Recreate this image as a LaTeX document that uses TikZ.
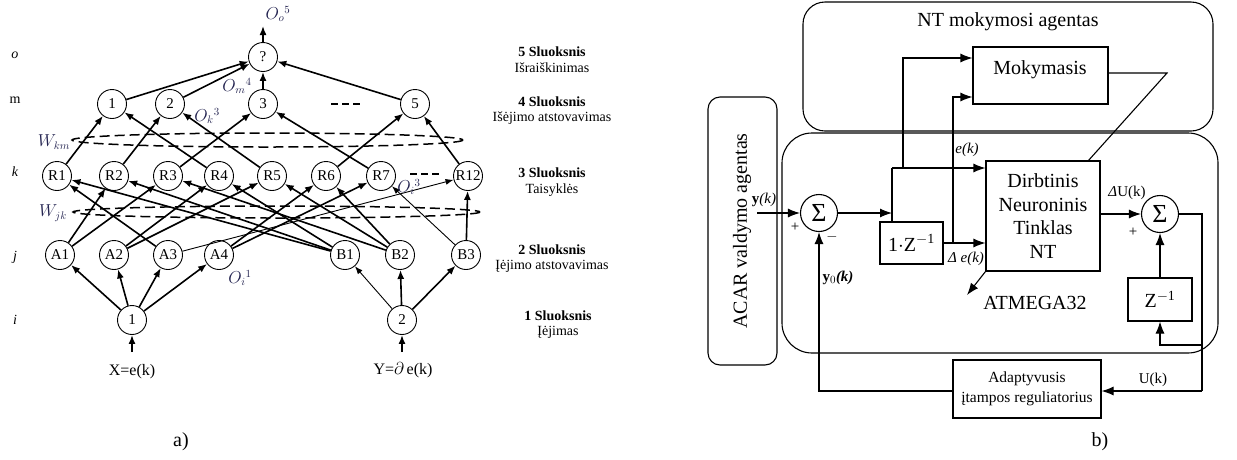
\documentclass[tikz,border=0pt]{standalone}
\usepackage{fontspec}
\setmainfont{Liberation Serif}
\usetikzlibrary{arrows.meta}
\newcommand{\fsz}[1]{\fontsize{#1}{#1}\selectfont}
\definecolor{lblc}{RGB}{35,35,80}
\begin{document}
\begin{tikzpicture}[x=1pt,y=-1pt,
  neuron/.style={draw,circle,minimum size=29pt,inner sep=0pt,line width=0.9pt,font=\fsz{15}},
  ar/.style={line width=1.6pt,-{Latex[length=9pt,width=7pt]}},
  arthin/.style={line width=0.9pt,-{Latex[length=8pt,width=6pt]}},
  lay/.style={font=\fsz{14}\itshape},
  sl/.style={font=\fsz{14}\bfseries},
  sld/.style={font=\fsz{14}},
  wl/.style={font=\fsz{16}, text=lblc},
  ell/.style={line width=1.5pt,dash pattern=on 10pt off 5pt},
  blk/.style={draw,line width=1.1pt,inner sep=0pt},
  fl/.style={line width=1.1pt,-{Latex[length=12pt,width=9pt]}},
  ln/.style={line width=1.1pt},
  sumnode/.style={draw,circle,line width=1.1pt,minimum size=37pt,inner sep=0pt,font=\fsz{26}},
]
\useasboundingbox (0,0) rectangle (1237,459);

% ---------------- (a) ----------------
\node[lay] at (15,55) {o};
\node[sld] at (15,100) {m};
\node[lay] at (15,172) {k};
\node[lay] at (15,257) {j};
\node[lay] at (15,320) {i};

\node[neuron] (Q) at (263,57) {?};
\node[neuron] (M1) at (112,104) {1};
\node[neuron] (M2) at (170,104) {2};
\node[neuron] (M3) at (263,104) {3};
\node[neuron] (M5) at (415,104) {5};

\node[neuron] (R1) at (57,176) {R1};
\node[neuron] (R2) at (114,176) {R2};
\node[neuron] (R3) at (168,176) {R3};
\node[neuron] (R4) at (219,176) {R4};
\node[neuron] (R5) at (272,176) {R5};
\node[neuron] (R6) at (326,176) {R6};
\node[neuron] (R7) at (381,176) {R7};
\node[neuron] (R12) at (468,176) {R12};

\node[neuron] (A1) at (60,255) {A1};
\node[neuron] (A2) at (114,255) {A2};
\node[neuron] (A3) at (168,255) {A3};
\node[neuron] (A4) at (219,255) {A4};
\node[neuron] (B1) at (345,255) {B1};
\node[neuron] (B2) at (400,255) {B2};
\node[neuron] (B3) at (466,255) {B3};

\node[neuron] (I1) at (132,320) {1};
\node[neuron] (I2) at (402,320) {2};

% dashes
\draw[line width=1.6pt,dash pattern=on 7pt off 4pt] (331,104) -- (360,104);
\draw[line width=1.1pt,dash pattern=on 7pt off 4pt] (410,174) -- (441,174);

% ellipses
\draw[ell] (267.5,140) ellipse [x radius=195.5, y radius=7];
\draw[ell] (276.5,212) ellipse [x radius=203.5, y radius=6];

% output / inputs
\coordinate (out) at (263,26);
\draw[ar] (Q) -- (out);
\coordinate (inX) at (132,352);
\coordinate (inY) at (402,352);
\draw[ar] (inX) -- (I1);
\draw[ar] (inY) -- (I2);

% m -> o
\foreach \m in {M1,M2,M3,M5} \draw[ar] (\m) -- (Q);
% k -> m
\draw[ar] (R1) -- (M1);
\draw[ar] (R2) -- (M2);
\draw[ar] (R3) -- (M3);
\draw[ar] (R4) -- (M1);
\draw[ar] (R5) -- (M2);
\draw[ar] (R6) -- (M5);
\draw[ar] (R7) -- (M3);
\draw[ar] (R12) -- (M5);
% j -> k
\draw[ar] (A1) -- (R2);
\draw[ar] (A1) -- (R3);
\draw[ar] (A2) -- (R4);
\draw[ar] (A2) -- (R5);
\draw[ar] (A3) -- (R1);
\draw[arthin] (A3) -- (R12);
\draw[ar] (A4) -- (R6);
\draw[ar] (A4) -- (R7);
\draw[ar] (B1) -- (R1);
\draw[ar] (B1) -- (R2);
\draw[ar] (B1) -- (R4);
\draw[ar] (B2) -- (R3);
\draw[ar] (B2) -- (R5);
\draw[ar] (B2) -- (R6);
\draw[arthin] (B3) -- (R7);
\draw[ar] (B3) -- (R12);
% i -> j
\foreach \a in {A1,A2,A3,A4} \draw[ar] (I1) -- (\a);
\draw[arthin] (I2) -- (B1);
\draw[ar] (I2) -- (B2);
\draw[ar] (I2) -- (B3);

% small labels
\node[wl] at (278,14) {$O_{o}{}^{5}$};
\node[wl] at (237,86) {$O_{m}{}^{4}$};
\node[wl] at (207,116) {$O_{k}{}^{3}$};
\node[wl] at (409,187) {$O_{i}{}^{3}$};
\node[wl] at (240,278) {$O_{i}{}^{1}$};
\node[wl] at (54,142) {$W_{km}$};
\node[wl] at (53,213) {$W_{jk}$};

\node[font=\fsz{16}] at (132,372) {X=e(k)};
\node[font=\fsz{16}] at (403,370) {Y=$\partial$\,e(k)};

\node[sl] at (552,52) {5 Sluoksnis};
\node[sld] at (552,68) {Išraiškinimas};
\node[sl] at (552,102) {4 Sluoksnis};
\node[sld] at (552,118) {Išėjimo atstovavimas};
\node[sl] at (552,173) {3 Sluoksnis};
\node[sld] at (552,190) {Taisyklės};
\node[sl] at (552,250) {2 Sluoksnis};
\node[sld] at (552,266) {Įėjimo atstovavimas};
\node[sl] at (558,316) {1 Sluoksnis};
\node[sld] at (558,332) {Įėjimas};

\node[font=\fsz{20}] at (181,442) {a)};
\node[font=\fsz{20}] at (1100,442) {b)};

% ---------------- (b) ----------------
\draw[ln, rounded corners=22pt] (803,2) rectangle (1213,131);
\draw[ln, rounded corners=30pt] (782,133) rectangle (1218,353);
\draw[ln, rounded corners=12pt] (708,97) rectangle (777,365);

\node[font=\fsz{20}] at (1008,22) {NT mokymosi agentas};
\node[font=\fsz{20}, rotate=90] at (742,231) {ACAR valdymo agentas};

\node[blk, minimum width=135pt, minimum height=57pt] (mok) at (1040.5,75.5) {};
\node[font=\fsz{20}] at (1040,70) {Mokymasis};

\node[blk, minimum width=114pt, minimum height=110pt, align=center, font=\fontsize{20}{23.5}\selectfont] (dnt) at (1043,216) {Dirbtinis\\Neuroninis\\Tinklas\\NT};

\node[blk, minimum width=63pt, minimum height=42pt, font=\fsz{20}] (z1) at (911.5,243) {1$\cdot$Z\textsuperscript{$-$1}};
\node[blk, minimum width=64pt, minimum height=43pt, font=\fsz{20}] (z2) at (1160,299.5) {Z\textsuperscript{$-$1}};
\node[blk, minimum width=148pt, minimum height=58pt, align=center, font=\fontsize{15.5}{20}\selectfont] (adp) at (1027,389) {Adaptyvusis\\įtampos reguliatorius};

\node[sumnode] (s1) at (819,213) {Σ};
\node[sumnode] (s2) at (1160,214) {Σ};

\coordinate (yin) at (757,213);
\coordinate (j1) at (892,213);
\coordinate (j1top) at (892,168);
\coordinate (j2) at (903,168);
\coordinate (j2top) at (903,58);
\coordinate (j3) at (953,243);
\coordinate (j3top) at (953,97);
\coordinate (mk) at (1167,73);
\coordinate (dtop) at (1088,161);
\coordinate (rc) at (1202,214);
\coordinate (rb) at (1202,391);
\coordinate (br) at (1202,345);
\coordinate (lb) at (819,391);
\coordinate (atm) at (967,295);

\draw[fl] (yin) -- (s1.west);
\draw[fl] (s1.east) -- (j1);
\draw[ln] (j1top) -- (j1top |- z1.north);
\draw[fl] (j1top) -- (j1top -| dnt.west);
\draw[fl] (j2) -- (j2top) -- (j2top -| mok.west);
\draw[fl] (z1.east) -- (z1.east -| dnt.west);
\draw[fl] (j3) -- (j3top) -- (j3top -| mok.west);
\draw[ln] (mok.east |- mk) -- (mk) -- (dtop);
\draw[fl] (dnt.east |- s2) -- (s2.west);
\draw[ln] (s2.east) -- (rc) -- (rb);
\draw[fl] (rb) -- (rb -| adp.east);
\draw[fl] (br) -- (br -| z2) -- (z2.south);
\draw[fl] (z2.north) -- (s2.south);
\draw[fl] (adp.west |- lb) -- (lb) -- (s1.south);
\draw[fl] (dnt.south west) -- (atm);

\node[font=\fsz{20}] at (1035,303) {ATMEGA32};
\node[font=\fsz{15}] at (764,200) {\textbf{y}\textit{(k)}};
\node[font=\fsz{15}] at (795,227) {+};
\node[font=\fsz{15}] at (832,237) {$-$};
\node[font=\fsz{15}] at (1133,232) {+};
\node[font=\fsz{15}] at (967,150) {\textit{e(k)}};
\node[font=\fsz{15}] at (966,259) {\textit{Δ e(k)}};
\node[font=\fsz{15}] at (1127,193) {\textit{Δ}U(k)};
\node[font=\fsz{15}] at (1153,380) {U(k)};
\node[font=\fsz{15}] at (838,278) {\textbf{y}$_0$\textbf{\textit{(k)}}};
\end{tikzpicture}
\end{document}
